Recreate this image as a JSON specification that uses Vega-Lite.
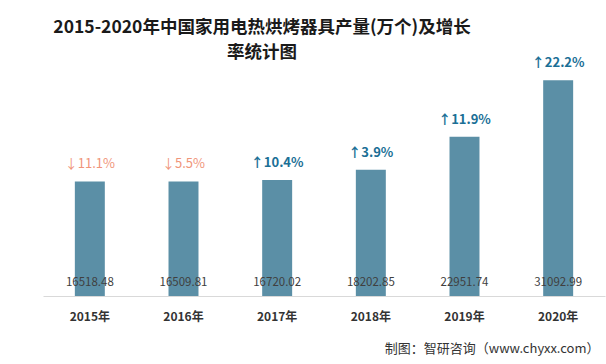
{
  "$schema": "https://vega.github.io/schema/vega-lite/v6.json",
  "autosize": {"type": "none"},
  "padding": {"left": 43, "right": 1, "top": 74, "bottom": 68},
  "width": 562,
  "height": 222,
  "background": "#ffffff",
  "config": {"view": {"stroke": null}, "font": "Noto Sans CJK SC"},
  "title": {
    "text": ["2015-2020年中国家用电热烘烤器具产量(万个)及增长", "率统计图"],
    "fontSize": 17.5,
    "fontWeight": "bold",
    "font": "Noto Sans CJK SC",
    "color": "#1a1a1a",
    "lineHeight": 25,
    "anchor": "middle",
    "dx": -62,
    "offset": -4
  },
  "data": {
    "values": [
      {"year": "2015年", "value": 16518.48, "label": "16518.48", "growth": "↓11.1%", "dir": "down"},
      {"year": "2016年", "value": 16509.81, "label": "16509.81", "growth": "↓5.5%", "dir": "down"},
      {"year": "2017年", "value": 16720.02, "label": "16720.02", "growth": "↑10.4%", "dir": "up"},
      {"year": "2018年", "value": 18202.85, "label": "18202.85", "growth": "↑3.9%", "dir": "up"},
      {"year": "2019年", "value": 22951.74, "label": "22951.74", "growth": "↑11.9%", "dir": "up"},
      {"year": "2020年", "value": 31092.99, "label": "31092.99", "growth": "↑22.2%", "dir": "up"}
    ]
  },
  "encoding": {
    "x": {
      "field": "year",
      "type": "nominal",
      "sort": null,
      "scale": {"paddingInner": 0.68, "paddingOuter": 0.34},
      "axis": {
        "title": "制图：智研咨询（www.chyxx.com）",
        "titleFontSize": 13,
        "titleFontWeight": "normal",
        "titleColor": "#333333",
        "titleAnchor": "end",
        "titleAlign": "right",
        "titleX": 556,
        "titlePadding": 20,
        "labelAngle": 0,
        "labelFontSize": 12,
        "labelFontWeight": "bold",
        "labelColor": "#333333",
        "labelPadding": 15,
        "ticks": false,
        "domainColor": "#d9d9d9",
        "domainWidth": 1
      }
    }
  },
  "layer": [
    {
      "mark": {"type": "bar", "color": "#5b8fa6"},
      "encoding": {
        "y": {"field": "value", "type": "quantitative", "scale": {"domain": [0, 32000], "nice": false}, "axis": null}
      }
    },
    {
      "mark": {"type": "text", "fontSize": 11.5, "color": "#404040", "baseline": "middle", "dy": -13},
      "encoding": {
        "y": {"datum": 0, "type": "quantitative"},
        "text": {"field": "label"}
      }
    },
    {
      "transform": [{"filter": "datum.dir == 'up'"}],
      "mark": {"type": "text", "fontSize": 13, "fontWeight": "bold", "baseline": "middle", "dy": -17, "color": "#1b6f96"},
      "encoding": {
        "y": {"field": "value", "type": "quantitative"},
        "text": {"field": "growth"}
      }
    },
    {
      "transform": [{"filter": "datum.dir == 'down'"}],
      "mark": {"type": "text", "fontSize": 13, "fontWeight": "normal", "baseline": "middle", "dy": -17, "color": "#f0957a"},
      "encoding": {
        "y": {"field": "value", "type": "quantitative"},
        "text": {"field": "growth"}
      }
    }
  ]
}
